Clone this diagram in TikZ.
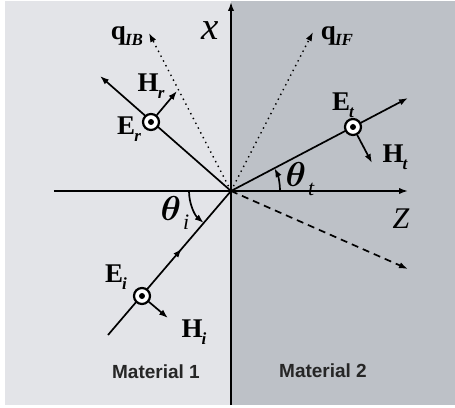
\documentclass[tikz,border=0pt]{standalone}
\usepackage{fontspec}
\setmainfont{Liberation Serif}
\setsansfont{Liberation Sans}
\usepackage{amsmath,bm}
\usetikzlibrary{positioning,arrows.meta,calc}
\definecolor{matone}{RGB}{227,228,232}
\definecolor{mattwo}{RGB}{189,193,199}
\newcommand{\fld}[2]{\textbf{#1}\kern-0.4pt\raisebox{-0.55ex}{\fontsize{8.5}{9}\selectfont\bfseries\itshape #2}}
\newcommand{\angl}[1]{$\bm{\theta}$\kern1pt\raisebox{-0.6ex}{\fontsize{11}{12}\selectfont\itshape #1}}
\begin{document}
\begin{tikzpicture}[x=0.5pt,y=0.5pt,line width=0.85pt,>={Latex[length=4.5pt,width=3.2pt]}]
\tikzstyle{pt}=[circle,draw,fill=white,line width=1.1pt,inner sep=0pt,minimum size=8pt,
  path picture={\fill[black] (path picture bounding box.center) circle (1.5pt);}]
\tikzstyle{lbl}=[inner sep=0pt,font=\fontsize{13.5}{14}\selectfont]
\tikzstyle{ang}=[inner sep=0pt,font=\fontsize{16}{17}\selectfont]
\tikzstyle{mat}=[inner sep=0pt,font=\fontsize{9.5}{11}\selectfont\sffamily\bfseries,text=black!85]
\useasboundingbox (-231,-216) rectangle (224,191);
\fill[white] (-231,-216) rectangle (224,191);
\fill[matone] (-226,-214) rectangle (0,190);
\fill[mattwo] (0,-214) rectangle (224,190);
\coordinate (O) at (0,0);
\coordinate (zl) at (-177,0);
\coordinate (zr) at (177,0);
\coordinate (xb) at (0,-214);
\coordinate (xt) at (0,189);
\coordinate (ri) at (-123,-144);
\coordinate (rr) at (-131,115);
\coordinate (rt) at (177,93);
\coordinate (rd) at (177,-78);
\coordinate (qb) at (-82,158);
\coordinate (qf) at (82,159);
\coordinate (hi) at (-63,-127);
\coordinate (hr) at (-54,100);
\coordinate (ht) at (141,28);
\draw[->] (zl) -- (zr);
\draw[->] (xb) -- (xt);
\draw[->] (ri) -- ($(ri)!0.6!(O)$);
\draw ($(ri)!0.55!(O)$) -- (O);
\draw[->] (O) -- (rr);
\draw[->] (O) -- (rt);
\draw[->,dashed,dash pattern=on 3.5pt off 2.5pt] (O) -- (rd);
\draw[->,dotted,line width=0.7pt] (O) -- (qb);
\draw[->,dotted,line width=0.7pt] (O) -- (qf);
\draw[->] (-42,0) arc[start angle=180,end angle=229.5,radius=42];
\draw[->] (49,0) arc[start angle=0,end angle=27.7,radius=49];
\node[pt] (Ei) at (-89,-105) {};
\node[pt] (Er) at (-80,69) {};
\node[pt] (Et) at (122,64) {};
\draw[->] (Ei) -- (hi);
\draw[->] (Er) -- (hr);
\draw[->] (Et) -- (ht);
\node[lbl] (lEi) at (-115,-86) {\fld{E}{i}};
\node[lbl] (lHi) at (-37,-141) {\fld{H}{i}};
\node[lbl] (lEr) at (-102,62) {\fld{E}{r}};
\node[lbl] (lHr) at (-80,105) {\fld{H}{r}};
\node[lbl] (lEt) at (112,86) {\fld{E}{t}};
\node[lbl] (lHt) at (164,34) {\fld{H}{t}};
\node[lbl] (lqb) at (-104,155) {\fld{q}{IB}};
\node[lbl] (lqf) at (106,155) {\fld{q}{IF}};
\node[inner sep=0pt,font=\fontsize{19.5}{20}\selectfont\itshape] (lx) at (-21,160) {x};
\node[inner sep=0pt,font=\fontsize{15}{16}\selectfont\itshape] (lz) at (170,-28) {Z};
\node[ang] (lti) at (-56,-22) {\angl{i}};
\node[ang] (ltt) at (69,12) {\angl{t}};
\node[mat] (m1) at (-75,-181) {Material 1};
\node[mat] (m2) at (92,-180) {Material 2};
\end{tikzpicture}
\end{document}
